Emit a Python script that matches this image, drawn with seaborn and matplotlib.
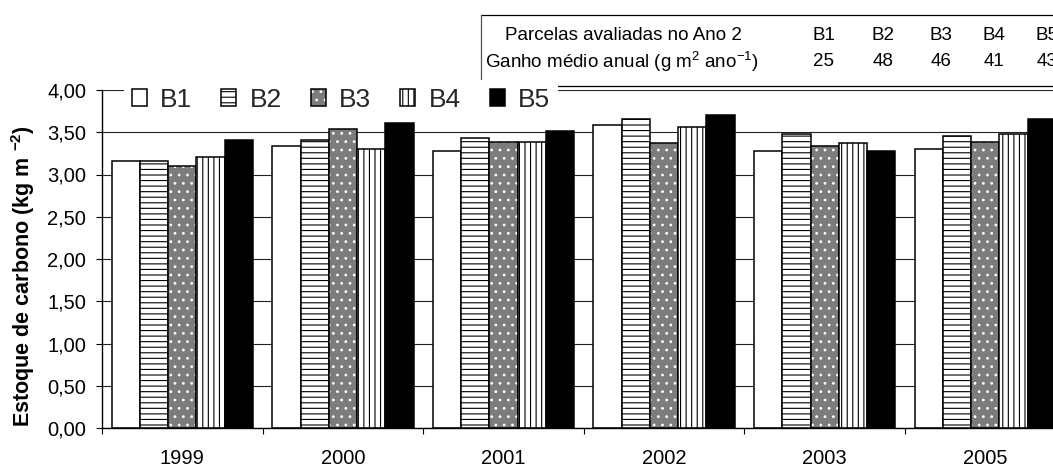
import numpy as np
import pandas as pd
import matplotlib
matplotlib.use('Agg')
import matplotlib.pyplot as plt
import seaborn as sns
from matplotlib.lines import Line2D

# ---------------- data ----------------
anos = ['1999', '2000', '2001', '2002', '2003', '2005']
parcelas = ['B1', 'B2', 'B3', 'B4', 'B5']
B1 = [3.16, 3.34, 3.28, 3.58, 3.28, 3.30]
B2 = [3.16, 3.41, 3.43, 3.66, 3.48, 3.45]
B3 = [3.10, 3.54, 3.39, 3.37, 3.34, 3.39]
B4 = [3.21, 3.30, 3.39, 3.56, 3.37, 3.48]
B5 = [3.41, 3.61, 3.52, 3.71, 3.28, 3.66]
ganho = [25, 48, 46, 41, 43]
yticks = [0.0, 0.5, 1.0, 1.5, 2.0, 2.5, 3.0, 3.5, 4.0]

series = {'B1': B1, 'B2': B2, 'B3': B3, 'B4': B4, 'B5': B5}
rows = []
for p in parcelas:
    for a, v in zip(anos, series[p]):
        rows.append({'ano': a, 'parcela': p, 'valor': v})
df = pd.DataFrame(rows)

# ---------------- style ----------------
sns.set_theme(style='white')
plt.rcParams['font.family'] = ['Liberation Sans', 'DejaVu Sans']
plt.rcParams['mathtext.fontset'] = 'custom'
plt.rcParams['mathtext.rm'] = 'Liberation Sans'
plt.rcParams['mathtext.it'] = 'Liberation Sans:italic'
plt.rcParams['mathtext.bf'] = 'Liberation Sans:bold'
plt.rcParams['hatch.linewidth'] = 0.8

W, H = 1053, 466
fig = plt.figure(figsize=(W / 100, H / 100), dpi=100)
fig.patch.set_facecolor('white')
ax = fig.add_axes([102 / W, (H - 428) / H, 963.6 / W, 338 / H])

palette = ['white', 'white', '#7c7c7c', 'white', 'black']
sns.barplot(data=df, x='ano', y='valor', hue='parcela', order=anos,
            hue_order=parcelas, palette=palette, saturation=1,
            width=0.88, gap=0, edgecolor='black', linewidth=1.1,
            errorbar=None, legend=False, ax=ax)

hatches = ['', '---', '..', '|||', '']
for cont, h, name in zip(ax.containers, hatches, parcelas):
    for p in cont.patches:
        p.set_hatch(h)
        p.set_zorder(2)
        if name == 'B3':
            p._hatch_color = (1.0, 1.0, 1.0, 1.0)

# grid & axes
ax.set_axisbelow(True)
ax.yaxis.grid(True, color='#222222', linewidth=0.8)
ax.xaxis.grid(False)
ax.set_ylim(0, 4)
ax.set_xlim(-0.5, 5.5)
ax.set_yticks(yticks)
ax.set_yticklabels([f'{v:.2f}'.replace('.', ',') for v in yticks], fontsize=14.5)
ax.set_xticks(range(len(anos)))
ax.set_xticklabels(anos, fontsize=14.5)
ax.set_xticks(np.arange(-0.5, len(anos), 1.0), minor=True)
ax.tick_params(axis='x', which='major', length=0, pad=15, colors='black')
ax.tick_params(axis='x', which='minor', bottom=True, direction='out',
               length=4.5, width=0.8, color='black')
ax.tick_params(axis='y', left=True, direction='out', length=4.5, width=0.8,
               color='black', pad=7, labelcolor='black')
ax.set_xlabel('')
ax.set_ylabel('')
for s in ['top', 'right']:
    ax.spines[s].set_visible(False)
for s in ['left', 'bottom']:
    ax.spines[s].set_color('black')
    ax.spines[s].set_linewidth(1.0)

# legend
handles = [cont.patches[0] for cont in ax.containers]
leg = ax.legend(handles, parcelas, ncol=5, loc='upper left',
                bbox_to_anchor=(124 / W, 1 - 80 / H),
                bbox_transform=fig.transFigure, fontsize=19,
                frameon=True, fancybox=False, facecolor='white',
                framealpha=1, borderpad=0.3, borderaxespad=0,
                handlelength=0.57, handleheight=0.6, handletextpad=0.5,
                columnspacing=1.1)
leg.get_frame().set_linewidth(0)
leg.set_zorder(10)

# y label
fig.text(23 / W, 1 - 276 / H, r'Estoque de carbono (kg m $^{\mathbf{-2}}$)',
         rotation=90, ha='center', va='center', fontsize=15.5,
         fontweight='bold', color='black')

# table box
fig.add_artist(Line2D([481 / W, 1.0], [1 - 15 / H] * 2, transform=fig.transFigure,
                      color='black', lw=0.9, zorder=-1))
fig.add_artist(Line2D([481 / W] * 2, [1 - 15 / H, 1 - 86 / H], transform=fig.transFigure,
                      color='#555555', lw=0.9, zorder=-1))
fig.add_artist(Line2D([481 / W, 1.0], [1 - 86 / H] * 2, transform=fig.transFigure,
                      color='black', lw=0.9, zorder=-1))

fig.text(623 / W, 1 - 35 / H, 'Parcelas avaliadas no Ano 2', ha='center',
         va='center', fontsize=13.5, color='black')
fig.text(622 / W, 1 - 62 / H, r'Ganho médio anual (g m$^2$ ano$^{-1}$)',
         ha='center', va='center', fontsize=13.5, color='black')
col_x = [824, 883, 941, 994, 1047]
for cx, p, g in zip(col_x, parcelas, ganho):
    fig.text(cx / W, 1 - 35 / H, p, ha='center', va='center', fontsize=13.5,
             color='black')
    fig.text(cx / W, 1 - 62 / H, str(g), ha='center', va='center',
             fontsize=13.5, color='black')

fig.savefig('out.png', dpi=100)
